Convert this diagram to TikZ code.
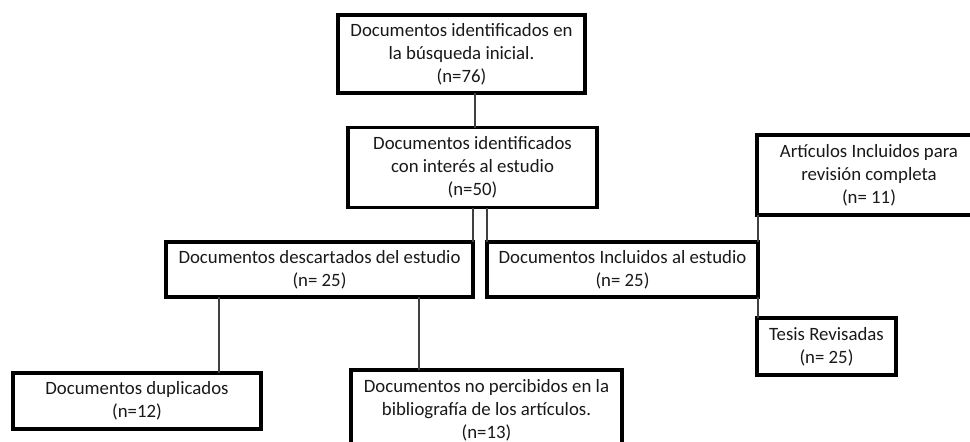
\documentclass[tikz,border=0pt]{standalone}
\usepackage{fontspec}
\setmainfont{Carlito}
\begin{document}
\begin{tikzpicture}[x=1pt,y=-1pt,
  box/.style={draw=black, line width=3.2pt, fill=white, inner sep=0pt, outer sep=0pt, align=center,
    font=\fontsize{18.8}{23}\selectfont, text=black!90},
  conn/.style={draw=black!75, line width=1.1pt}]
\clip (0,0) rectangle (970,442);
\fill[white] (0,0) rectangle (970,442);
\node[box, minimum width=247pt, minimum height=78pt] (b1) at (461.5,54) {Documentos identificados en\\la búsqueda inicial.\\(n=76)};
\node[box, minimum width=249pt, minimum height=80pt] (b2) at (472.5,167.5) {Documentos identificados\\con interés al estudio\\(n=50)};
\node[box, minimum width=307pt, minimum height=55pt] (desc) at (319.5,269.5) {Documentos descartados del estudio\\(n= 25)};
\node[box, minimum width=271pt, minimum height=55pt] (incl) at (622.5,269.5) {Documentos Incluidos al estudio\\(n= 25)};
\node[box, minimum width=224pt, minimum height=80pt] (art) at (869,175) {Artículos Incluidos para\\revisión completa\\(n= 11)};
\node[box, minimum width=139pt, minimum height=57pt] (tes) at (826.5,346.5) {Tesis Revisadas\\(n= 25)};
\node[box, minimum width=248pt, minimum height=56pt] (dup) at (137,401) {Documentos duplicados\\(n=12)};
\node[box, minimum width=271pt, minimum height=80pt] (nop) at (486.5,410) {Documentos no percibidos en la\\bibliografía de los artículos.\\(n=13)};
\draw[conn] (b1.south -| 475,0) -- (b2.north -| 475,0);
\draw[conn] (b2.south -| desc.north east) -- (desc.north east);
\draw[conn] (b2.south -| incl.north west) -- (incl.north west);
\draw[conn] (desc.south -| 219,0) -- (dup.north -| 219,0);
\draw[conn] (desc.south -| 419,0) -- (nop.north -| 419,0);
\draw[conn] (incl.north east) -- (incl.north east |- art.south);
\draw[conn] (incl.south east) -- (incl.south east |- tes.north);
\end{tikzpicture}
\end{document}
